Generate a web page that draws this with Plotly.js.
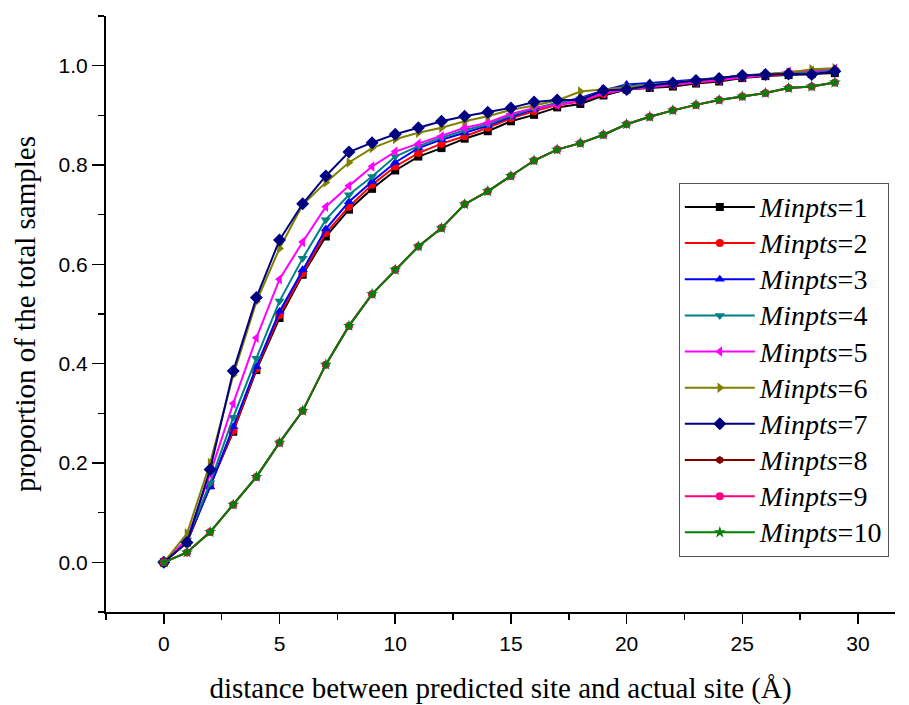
<!DOCTYPE html>
<html>
<head>
<meta charset="utf-8">
<script src="https://cdn.plot.ly/plotly-3.0.1.min.js"></script>
<style>html,body{margin:0;padding:0;background:#fff;}#chart{width:909px;height:705px;}</style>
</head>
<body>
<div id="chart"></div>
<script>
const distance = [0,1,2,3,4,5,6,7,8,9,10,11,12,13,14,15,16,17,18,19,20,21,22,23,24,25,26,27,28,29];

const minpts1 = [0,0.040,0.155,0.263,0.387,0.492,0.579,0.656,0.710,0.752,0.789,0.817,0.834,0.853,0.868,0.888,0.901,0.916,0.923,0.940,0.952,0.955,0.958,0.964,0.968,0.975,0.979,0.981,0.983,0.985];
const minpts2 = [0,0.040,0.155,0.265,0.390,0.498,0.582,0.663,0.716,0.760,0.797,0.824,0.843,0.858,0.875,0.894,0.908,0.921,0.928,0.943,0.953,0.957,0.961,0.966,0.970,0.977,0.980,0.983,0.986,0.988];
const minpts3 = [0,0.042,0.152,0.273,0.394,0.505,0.589,0.671,0.726,0.767,0.805,0.834,0.851,0.865,0.879,0.897,0.912,0.925,0.935,0.950,0.962,0.965,0.968,0.972,0.975,0.980,0.983,0.985,0.988,0.990];
const minpts4 = [0,0.045,0.160,0.292,0.411,0.526,0.612,0.690,0.740,0.777,0.817,0.838,0.855,0.870,0.882,0.900,0.914,0.925,0.933,0.948,0.958,0.962,0.966,0.970,0.974,0.979,0.982,0.985,0.988,0.990];
const minpts5 = [0,0.047,0.178,0.320,0.452,0.570,0.645,0.716,0.758,0.797,0.827,0.843,0.858,0.875,0.885,0.903,0.915,0.921,0.930,0.944,0.952,0.957,0.962,0.967,0.971,0.977,0.981,0.988,0.990,0.994];
const minpts6 = [0,0.058,0.200,0.377,0.525,0.632,0.720,0.765,0.805,0.834,0.852,0.865,0.875,0.888,0.898,0.911,0.920,0.930,0.948,0.952,0.956,0.960,0.965,0.970,0.975,0.980,0.983,0.986,0.993,0.995];
const minpts7 = [0,0.040,0.187,0.385,0.533,0.649,0.722,0.778,0.826,0.845,0.862,0.875,0.888,0.898,0.906,0.915,0.927,0.931,0.931,0.950,0.952,0.960,0.965,0.970,0.974,0.980,0.982,0.983,0.982,0.989];
const minpts8 = [0,0.020,0.061,0.116,0.172,0.241,0.305,0.398,0.476,0.540,0.589,0.636,0.673,0.721,0.747,0.778,0.809,0.831,0.844,0.861,0.882,0.897,0.910,0.921,0.931,0.938,0.945,0.955,0.958,0.966];
const minpts9 = [0,0.020,0.061,0.116,0.172,0.241,0.305,0.398,0.476,0.540,0.589,0.636,0.673,0.721,0.747,0.778,0.809,0.831,0.844,0.861,0.882,0.897,0.910,0.921,0.931,0.938,0.945,0.955,0.958,0.966];
const minpts10 = [0,0.020,0.061,0.116,0.172,0.241,0.305,0.398,0.476,0.540,0.589,0.636,0.673,0.721,0.747,0.778,0.809,0.831,0.844,0.861,0.882,0.897,0.910,0.921,0.931,0.938,0.945,0.955,0.958,0.966];

const seriesNames = ["1","2","3","4","5","6","7","8","9","10"];
const seriesValues = [minpts1,minpts2,minpts3,minpts4,minpts5,minpts6,minpts7,minpts8,minpts9,minpts10];
const colors = ["#000000","#FF0000","#0000FF","#008080","#FF00FF","#808000","#000080","#800000","#FF0080","#008000"];
const symbols = ["square","circle","triangle-up","triangle-down","triangle-left","triangle-right","diamond","hexagon","circle","star"];
const sizes = [8,8,9,9,9,9,10,8,8,9];

const traces = seriesValues.map((vals, i) => ({
  x: distance,
  y: vals,
  type: "scatter",
  mode: "lines+markers",
  name: '<span style="font-size:28px"><i>Minpts</i>=' + seriesNames[i] + '</span>',
  line: {color: colors[i], width: 2},
  marker: {color: colors[i], symbol: symbols[i], size: sizes[i], line: {width: 0}}
}));

const serif = "Liberation Serif, Times New Roman, serif";
const sans = "Liberation Sans, Arial, sans-serif";

const layout = {
  width: 909,
  height: 705,
  margin: {l: 106, r: 14, t: 16, b: 93},
  paper_bgcolor: "#ffffff",
  plot_bgcolor: "#ffffff",
  showlegend: true,
  font: {family: sans, color: "#000"},
  xaxis: {
    range: [-2.5, 31.6],
    tickmode: "linear", tick0: 0, dtick: 5,
    ticks: "outside", ticklen: 10, tickwidth: 1.5, tickcolor: "#000",
    ticklabelstandoff: 2,
    minor: {dtick: 2.5, tick0: 0, ticks: "outside", ticklen: 6, tickwidth: 1.5, tickcolor: "#000"},
    showline: true, linewidth: 2, linecolor: "#000",
    showgrid: false, zeroline: false,
    tickfont: {family: sans, size: 21, color: "#000"},
    title: {text: "distance between predicted site and actual site (Å)", font: {family: serif, size: 29, color: "#000"}, standoff: 24}
  },
  yaxis: {
    range: [-0.1, 1.1],
    tickmode: "linear", tick0: 0, dtick: 0.2, tickformat: ".1f",
    ticks: "outside", ticklen: 12, tickwidth: 1.5, tickcolor: "#000",
    ticklabelstandoff: 0,
    minor: {dtick: 0.1, tick0: 0, ticks: "outside", ticklen: 6, tickwidth: 1.5, tickcolor: "#000"},
    showline: true, linewidth: 2, linecolor: "#000",
    showgrid: false, zeroline: false,
    tickfont: {family: sans, size: 21, color: "#000"},
    title: {text: "proportion of the total samples", font: {family: serif, size: 29, color: "#000"}, standoff: 14}
  },
  legend: {
    x: 0.726, y: 0.72, xanchor: "left", yanchor: "top",
    bgcolor: "#ffffff", bordercolor: "#555555", borderwidth: 1,
    font: {family: serif, size: 25.5, color: "#000"},
    itemwidth: 70,
    tracegroupgap: 0
  }
};

Plotly.newPlot("chart", traces, layout, {displayModeBar: false, staticPlot: true});
</script>
</body>
</html>
